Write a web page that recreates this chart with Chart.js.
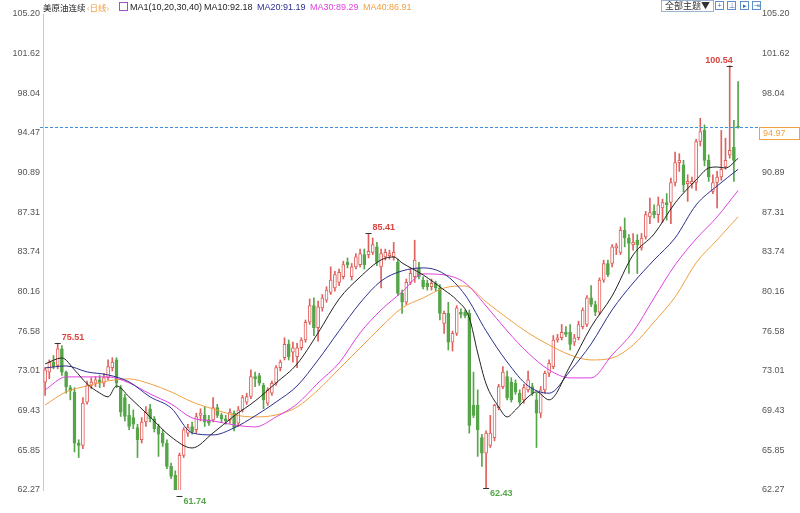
<!DOCTYPE html>
<html>
<head>
<meta charset="utf-8">
<script src="https://cdn.jsdelivr.net/npm/chart.js@4.4.1/dist/chart.umd.min.js"></script>
<style>
  body { margin: 0; background: #fff; }
  #wrap { position: relative; width: 800px; height: 513px; }
  #wrap canvas { position: absolute; left: 0; top: 0; }
  .hd { position: absolute; top: 1px; font: 9px "Liberation Sans", Arial, sans-serif; line-height: 12px; white-space: nowrap; color: #222; }
  .cjk { font-family: "Noto Sans CJK SC", sans-serif; font-size: 8.5px; }
  .btn { position: absolute; top: 0; left: 661px; width: 51px; height: 10px; border: 1px solid #9bb3cf; font: 9px "Noto Sans CJK SC", sans-serif; line-height: 10px; color: #333; text-align: center; }
  .ico { position: absolute; top: 1px; width: 7px; height: 7px; border: 1px solid #5b8fd0; font: 7px "Liberation Sans", Arial, sans-serif; line-height: 7px; color: #3a6fb8; text-align: center; }
</style>
</head>
<body>
<div id="wrap">
  <canvas id="chart" width="800" height="513"></canvas>
  <span class="hd cjk" style="left:43px">美原油连续</span>
  <span class="hd cjk" style="left:87px;color:#f0a040">‹日线›</span>
  <span class="hd" style="left:119px;top:2px;width:7px;height:7px;border:1px solid #a050c0"></span>
  <span class="hd" style="left:130px">MA1(10,20,30,40)</span>
  <span class="hd" style="left:204px">MA10:92.18</span>
  <span class="hd" style="left:257px;color:#2b2f8f">MA20:91.19</span>
  <span class="hd" style="left:310px;color:#e040e0">MA30:89.29</span>
  <span class="hd" style="left:363px;color:#f0a040">MA40:86.91</span>
  <div class="btn">全部主题▼</div>
  <div class="ico" style="left:715px">+</div>
  <div class="ico" style="left:727px">⊥</div>
  <div class="ico" style="left:740px">▸</div>
  <div class="ico" style="left:752px">⇥</div>
</div>
<script>
// daily candles, oldest first
const opens = [
  72.0, 72.9, 73.8, 73.5, 75.0, 72.9, 71.5, 71.1, 66.5, 66.3,
  70.2, 71.7, 71.9, 72.2, 71.9, 72.4, 73.3, 74.0, 71.5, 70.6,
  69.0, 68.8, 67.9, 66.8, 68.4, 69.6, 68.7, 68.0, 67.4, 66.5,
  64.4, 63.6, 61.8, 65.4, 67.4, 68.0, 67.7, 69.0, 69.0, 68.6,
  68.6, 69.7, 69.0, 68.7, 68.6, 69.2, 68.3, 69.5, 70.2, 70.7,
  72.5, 72.6, 71.7, 70.1, 71.0, 71.9, 73.3, 74.2, 75.4, 74.7,
  74.3, 75.1, 75.8, 77.4, 78.9, 76.9, 78.7, 79.4, 80.1, 80.5,
  81.0, 81.5, 82.8, 81.5, 82.4, 82.6, 83.5, 83.5, 83.7, 84.2,
  82.4, 83.3, 83.4, 83.3, 82.8, 80.0, 79.2, 81.0, 81.5, 82.3,
  81.2, 80.9, 80.6, 80.9, 80.5, 77.3, 78.2, 75.6, 76.4, 78.3,
  78.3, 78.2, 69.9, 69.9, 67.0, 65.6, 66.3, 67.0, 69.7, 71.6,
  72.5, 72.0, 71.9, 71.0, 70.4, 71.3, 71.6, 70.4, 69.2, 71.3,
  72.8, 73.4, 75.8, 76.0, 76.5, 76.5, 75.6, 76.0, 77.0, 77.2,
  79.6, 79.0, 78.3, 81.2, 82.7, 82.7, 84.1, 83.7, 85.7, 85.0,
  84.4, 84.8, 84.1, 85.1, 86.9, 87.4, 87.1, 87.7, 88.2, 88.2,
  90.0, 91.8, 91.6, 89.9, 89.9, 90.0, 93.7, 94.7, 92.0, 89.2,
  90.0, 90.5, 91.4, 92.5, 93.2, 95.0
];
const highs = [
  73.3, 74.0, 74.4, 75.51, 75.3, 73.0, 71.7, 71.5, 66.8, 70.6,
  72.1, 72.4, 72.5, 72.6, 72.8, 74.0, 74.2, 74.2, 71.7, 70.9,
  70.0, 69.5, 68.2, 68.8, 69.8, 70.0, 68.9, 68.2, 67.7, 66.8,
  64.7, 64.0, 65.6, 67.9, 68.2, 68.4, 69.2, 69.6, 69.8, 69.0,
  70.6, 70.0, 69.2, 69.0, 69.6, 69.4, 69.8, 70.8, 71.0, 73.1,
  72.9, 72.8, 71.9, 71.5, 72.1, 73.5, 74.0, 76.0, 75.8, 75.6,
  75.5, 76.0, 77.6, 79.5, 79.6, 79.3, 79.9, 80.6, 82.4, 82.0,
  82.2, 82.9, 83.2, 82.7, 83.6, 84.0, 84.0, 85.41, 85.0, 84.6,
  84.0, 84.0, 83.9, 84.6, 83.1, 80.3, 81.3, 82.2, 84.8, 82.8,
  81.5, 81.2, 81.3, 81.1, 80.8, 78.4, 79.2, 76.6, 78.9, 78.6,
  78.5, 78.5, 72.9, 71.3, 67.3, 67.6, 69.0, 70.0, 71.8, 73.4,
  73.0, 72.4, 72.2, 71.3, 71.8, 73.0, 71.9, 71.0, 71.6, 73.0,
  74.0, 76.2, 76.3, 77.2, 77.0, 77.2, 76.3, 77.5, 78.7, 79.8,
  80.7, 79.3, 81.4, 83.0, 83.0, 84.4, 84.5, 86.0, 86.8, 85.3,
  85.4, 85.3, 85.4, 87.4, 88.6, 88.0, 88.7, 88.5, 89.0, 90.4,
  92.75, 92.6, 92.0, 90.7, 90.5, 93.9, 95.8, 95.2, 92.5, 90.7,
  91.0, 94.7, 94.0, 100.54, 95.6, 99.1
];
const lows = [
  70.8, 72.3, 73.2, 73.2, 72.6, 71.0, 70.4, 65.7, 65.2, 66.0,
  70.0, 71.4, 71.6, 71.5, 71.6, 72.2, 73.0, 71.5, 68.9, 68.5,
  67.7, 67.8, 65.2, 66.5, 68.0, 68.4, 67.5, 65.3, 66.2, 64.2,
  63.3, 61.9, 61.74, 65.2, 67.1, 67.3, 67.4, 68.5, 68.0, 68.1,
  68.4, 68.8, 68.4, 68.2, 68.3, 67.6, 68.0, 69.3, 70.0, 70.5,
  71.6, 71.7, 69.6, 69.9, 70.8, 71.7, 73.0, 74.0, 74.0, 73.8,
  73.3, 74.9, 75.6, 77.2, 76.2, 75.7, 78.4, 79.2, 79.9, 80.2,
  80.7, 81.3, 82.3, 81.2, 82.2, 82.4, 82.2, 83.2, 83.5, 82.5,
  80.5, 83.0, 83.1, 83.0, 79.8, 78.2, 79.0, 80.8, 81.0, 81.3,
  80.4, 80.3, 80.3, 80.2, 77.6, 76.4, 74.9, 74.8, 76.2, 77.8,
  77.8, 67.4, 68.8, 65.3, 64.4, 62.43, 66.1, 66.7, 69.5, 71.4,
  70.4, 70.2, 70.9, 70.0, 70.1, 71.1, 70.8, 66.1, 68.8, 71.0,
  72.5, 73.2, 75.6, 75.8, 76.1, 74.9, 75.3, 75.8, 76.8, 77.0,
  78.8, 78.0, 78.1, 81.0, 81.5, 82.4, 83.5, 83.5, 84.2, 81.8,
  83.9, 81.8, 83.9, 84.9, 86.3, 86.8, 86.4, 86.4, 86.6, 86.3,
  89.7, 91.0, 89.15, 88.3, 89.5, 89.3, 93.3, 91.5, 90.1, 89.0,
  87.7, 90.2, 91.2, 92.2, 90.1, 94.9
];
const closes = [
  73.1, 73.8, 73.4, 75.0, 72.9, 71.6, 71.2, 66.5, 66.3, 70.1,
  71.7, 72.0, 72.2, 71.9, 72.4, 73.4, 73.8, 71.9, 69.3, 68.9,
  68.0, 68.2, 66.8, 68.4, 69.3, 68.7, 67.8, 67.3, 66.5, 64.4,
  63.5, 62.1, 65.4, 67.7, 67.9, 67.5, 68.9, 69.2, 68.4, 68.3,
  69.7, 69.0, 68.7, 68.5, 69.3, 67.9, 69.5, 70.6, 70.7, 72.5,
  72.3, 71.9, 70.4, 71.3, 71.9, 73.3, 73.8, 75.4, 74.3, 75.1,
  75.1, 75.8, 77.4, 78.9, 76.9, 78.8, 79.6, 80.3, 81.2, 81.7,
  81.9, 82.6, 82.6, 82.4, 83.3, 83.6, 82.6, 83.8, 84.4, 82.8,
  83.6, 83.7, 83.6, 83.7, 80.0, 79.2, 81.0, 81.8, 83.0, 81.5,
  80.6, 80.6, 80.9, 80.5, 78.2, 78.2, 75.6, 76.4, 78.7, 78.1,
  78.0, 68.1, 69.0, 67.7, 65.6, 67.4, 67.4, 69.9, 71.6, 72.9,
  70.6, 70.4, 71.1, 70.2, 71.5, 72.2, 71.0, 69.2, 71.3, 72.8,
  73.7, 75.8, 76.0, 76.5, 76.3, 75.4, 76.0, 77.2, 78.5, 79.6,
  79.0, 78.3, 81.2, 82.7, 81.7, 84.2, 84.3, 85.7, 85.0, 84.5,
  84.6, 84.4, 85.0, 87.1, 87.3, 87.1, 88.0, 88.2, 88.0, 90.0,
  91.8, 92.0, 89.8, 90.1, 90.1, 93.7, 94.6, 92.0, 90.5, 90.0,
  90.5, 91.2, 92.0, 92.9, 92.0, 94.97
];

// moving averages at these candle positions
const ma10Idx = [0, 4, 7, 10, 13, 15, 17, 20, 25, 30, 35, 40, 45, 50, 55, 60, 65, 70, 75, 80, 83, 85, 90, 95,
  98, 101, 103, 105, 108, 110, 112, 115, 117, 120, 125, 130, 135, 140, 145, 150, 155, 158, 160, 162, 165];
const ma10 = [73.64, 74.18, 73.1, 71.84, 71.02, 70.67, 71.66, 70.67, 68.86, 67.06, 66.06, 67.42, 68.95, 70.3, 71.93,
  73.64, 76.44, 79.5, 81.48, 83.02, 83.29, 82.75, 81.67, 80.31, 79.4, 77.8, 74.63, 71.84, 69.76, 68.86, 69.49,
  70.67, 71.12, 70.4, 73.46, 76.98, 79.77, 83.47, 85.36, 88.16, 90.23, 91.31, 91.4, 91.31, 92.18];
const maIdx = [0, 5, 10, 15, 20, 25, 30, 35, 40, 45, 50, 55, 60, 65, 70, 75, 80, 85, 90, 95, 100,
  105, 110, 115, 120, 125, 130, 135, 140, 145, 150, 155, 160, 165];
const ma20 = [73.28, 73.46, 72.92, 72.65, 72.02, 70.67, 69.67, 67.42, 67.24, 67.87, 68.95, 70.21, 71.66, 74.0,
  76.62, 79.14, 81.12, 82.03, 82.3, 81.76, 79.86, 76.62, 73.82, 71.66, 71.0, 73.01, 75.44, 78.51, 80.94,
  83.02, 85.0, 87.98, 89.69, 91.19];
const ma30 = [71.3, 72.47, 72.47, 72.47, 71.93, 70.93, 70.03, 68.77, 68.5, 68.14, 67.96, 68.86, 70.03, 71.93,
  73.73, 76.44, 78.51, 80.13, 81.76, 81.67, 80.94, 78.87, 76.62, 74.63, 73.1, 72.38, 72.38, 74.45, 76.53,
  79.59, 82.57, 84.91, 86.9, 89.29];
const ma40 = [69.94, 71.12, 71.66, 72.11, 72.29, 71.84, 71.12, 70.21, 69.58, 69.04, 68.86, 69.04, 69.76, 71.3,
  73.19, 75.08, 76.98, 78.69, 79.59, 80.49, 80.67, 79.23, 77.79, 76.44, 75.35, 74.45, 74.0, 74.18, 75.35,
  77.43, 79.68, 82.75, 84.82, 86.91];

// price axis labels
const yTicks = [62.27, 65.85, 69.43, 73.01, 76.58, 80.16, 83.74, 87.31, 90.89, 94.47, 98.04, 101.62, 105.20];

// highest / lowest marks and latest price
const markIdx = [3, 32, 77, 105, 163];
const markHigh = [true, false, true, false, true];
const lastPrice = 94.97;

const RED = '#e0605c';
const GREEN = '#55a549';

const up = closes.map((c, i) => c >= opens[i]);
const candleColor = up.map(u => (u ? RED : GREEN));

const toPoints = (idx, vals) => idx.map((x, k) => ({ x: x, y: vals[k] }));

const maLine = (label, idx, vals, color) => ({
  type: 'line',
  label: label,
  data: toPoints(idx, vals),
  borderColor: color,
  borderWidth: 1,
  pointRadius: 0,
  cubicInterpolationMode: 'monotone',
  order: 0
});

const extrasPlugin = {
  id: 'extras',
  afterDatasetsDraw(chart) {
    const { ctx, scales } = chart;
    const xs = scales.x, ys = scales.y;
    ctx.save();

    // latest price dashed line
    const py = Math.round(ys.getPixelForValue(lastPrice)) + 0.5;
    ctx.strokeStyle = '#3f8fdc';
    ctx.lineWidth = 1;
    ctx.setLineDash([3, 2]);
    ctx.beginPath();
    ctx.moveTo(40, py);
    ctx.lineTo(759, py);
    ctx.stroke();
    ctx.setLineDash([]);

    // high / low marks
    ctx.font = 'bold 9px "Liberation Sans", Arial, sans-serif';
    markIdx.forEach((i, k) => {
      const hi = markHigh[k];
      const v = hi ? highs[i] : lows[i];
      const mx = xs.getPixelForValue(i);
      const my = Math.round(ys.getPixelForValue(v)) + 0.5;
      ctx.strokeStyle = '#333';
      ctx.beginPath();
      ctx.moveTo(mx - 3, my);
      ctx.lineTo(mx + 3, my);
      ctx.stroke();
      ctx.fillStyle = hi ? '#d9443f' : '#55a549';
      const nearRight = mx > chart.chartArea.right - 40;
      ctx.textAlign = nearRight ? 'right' : 'left';
      ctx.textBaseline = hi ? 'bottom' : 'top';
      ctx.fillText(v.toFixed(2), nearRight ? mx + 3 : mx + 4, hi ? my - 1 : my + 1);
    });

    // latest price box on the right axis
    ctx.fillStyle = '#fff';
    ctx.fillRect(759.5, py, 40, 12);
    ctx.strokeStyle = '#f0a040';
    ctx.strokeRect(759.5, py, 40, 12);
    ctx.fillStyle = '#f0a040';
    ctx.font = '9px "Liberation Sans", Arial, sans-serif';
    ctx.textAlign = 'left';
    ctx.textBaseline = 'middle';
    ctx.fillText(lastPrice.toFixed(2), 763, py + 6.5);
    ctx.restore();
  }
};

const yAxis = (pos) => ({
  position: pos,
  min: 62.27,
  max: 105.2,
  afterFit(s) { s.width = 43; },
  afterBuildTicks(s) { s.ticks = yTicks.map(v => ({ value: v })); },
  ticks: {
    callback: v => v.toFixed(2),
    font: { family: '"Liberation Sans", Arial, sans-serif', size: 9 },
    color: '#555',
    padding: pos === 'left' ? 3 : 5,
    autoSkip: false
  },
  grid: { drawOnChartArea: false, drawTicks: false },
  border: pos === 'left' ? { display: true, dash: [1, 2], color: '#c8c8c8' } : { display: false }
});

new Chart(document.getElementById('chart'), {
  type: 'bar',
  data: {
    datasets: [
      maLine('MA10', ma10Idx, ma10, '#222222'),
      maLine('MA20', maIdx, ma20, '#2b2f8f'),
      maLine('MA30', maIdx, ma30, '#e040e0'),
      maLine('MA40', maIdx, ma40, '#f0a040'),
      {
        label: 'body',
        data: opens.map((o, i) => ({ x: i, y: [Math.min(o, closes[i]), Math.max(o, closes[i])] })),
        backgroundColor: up.map(u => (u ? '#ffffff' : GREEN)),
        borderColor: candleColor,
        borderWidth: 1,
        borderSkipped: false,
        barThickness: 3,
        minBarLength: 1,
        grouped: false,
        order: 1
      },
      {
        label: 'wick',
        data: lows.map((l, i) => ({ x: i, y: [l, highs[i]] })),
        backgroundColor: candleColor,
        borderWidth: 0,
        barThickness: 1,
        grouped: false,
        order: 2
      }
    ]
  },
  options: {
    responsive: false,
    animation: false,
    events: [],
    layout: { padding: { top: 14, bottom: 23, left: 0, right: 0 } },
    plugins: { legend: { display: false }, tooltip: { enabled: false } },
    scales: {
      x: { type: 'linear', min: -0.5, max: 169.5, offset: false, display: false },
      y: yAxis('left'),
      y2: yAxis('right')
    }
  },
  plugins: [extrasPlugin]
});
</script>
</body>
</html>
